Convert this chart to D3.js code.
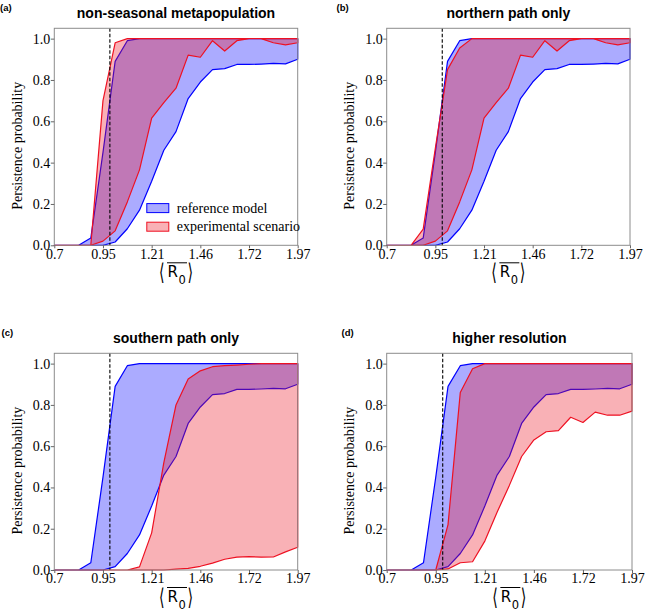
<!DOCTYPE html>
<html>
<head>
<meta charset="utf-8">
<script src="https://cdn.jsdelivr.net/npm/d3@7"></script>
</head>
<body style="margin:0;background:#fff">
<div id="chart"></div>
<script>
// R0 grid used by every panel
var r0Values = [0.7, 0.7635, 0.827, 0.8905, 0.954, 1.0175, 1.081, 1.1445, 1.208, 1.2715,
    1.335, 1.3985, 1.462, 1.5255, 1.589, 1.6525, 1.716, 1.7795, 1.843, 1.9065, 1.97];

// reference model (blue), same in all panels
var refLower = [0, 0, 0, 0, 0, 0.016, 0.08, 0.17, 0.31, 0.46, 0.55, 0.71, 0.79, 0.85, 0.855, 0.875, 0.875, 0.877, 0.88, 0.878, 0.90];
var refUpper = [0, 0, 0, 0.035, 0.45, 0.89, 0.99, 1, 1, 1, 1, 1, 1, 1, 1, 1, 1, 1, 1, 1, 1];

// experimental scenarios (red)
var nonSeasonalLower = [0, 0, 0, 0, 0.02, 0.07, 0.21, 0.365, 0.615, 0.69, 0.76, 0.92, 0.91, 0.99, 0.94, 0.99, 1, 1, 0.98, 0.97, 0.98];
var nonSeasonalUpper = [0, 0, 0, 0, 0.70, 0.98, 1, 1, 1, 1, 1, 1, 1, 1, 1, 1, 1, 1, 1, 1, 1];
var northernLower = [0, 0, 0, 0, 0.02, 0.07, 0.21, 0.365, 0.615, 0.69, 0.76, 0.92, 0.91, 0.99, 0.94, 0.99, 1, 1, 0.98, 0.97, 0.98];
var northernUpper = [0, 0, 0, 0.078, 0.47, 0.85, 0.955, 1, 1, 1, 1, 1, 1, 1, 1, 1, 1, 1, 1, 1, 1];
var southernLower = [0, 0, 0, 0, 0, 0, 0, 0, 0, 0, 0.004, 0.008, 0.018, 0.033, 0.052, 0.062, 0.065, 0.062, 0.063, 0.088, 0.11];
var southernUpper = [0, 0, 0, 0, 0, 0, 0, 0.015, 0.18, 0.52, 0.80, 0.925, 0.965, 0.985, 0.99, 0.993, 0.997, 1, 1, 1, 1];
var higherResLower = [0, 0, 0, 0, 0, 0.005, 0.035, 0.04, 0.14, 0.28, 0.41, 0.55, 0.63, 0.67, 0.675, 0.74, 0.715, 0.765, 0.75, 0.75, 0.77];
var higherResUpper = [0, 0, 0, 0, 0, 0.22, 0.86, 0.975, 1, 1, 1, 1, 1, 1, 1, 1, 1, 1, 1, 1, 1];

var xTickValues = [0.7, 0.954, 1.208, 1.462, 1.716, 1.97];
var xTickLabels = ["0.7", "0.95", "1.21", "1.46", "1.72", "1.97"];
var yTickValues = [0, 0.2, 0.4, 0.6, 0.8, 1.0];
var thresholdR0 = 0.99;
var legendLabels = ["reference model", "experimental scenario"];

var panels = [
    { tag: "(a)", title: "non-seasonal metapopulation", lower: nonSeasonalLower, upper: nonSeasonalUpper,
      left: 54.3, right: 297.7, top: 28.3, bottom: 245.3, tagX: 0, legend: true },
    { tag: "(b)", title: "northern path only", lower: northernLower, upper: northernUpper,
      left: 386.7, right: 630, top: 28.3, bottom: 245.3, tagX: 336.5 },
    { tag: "(c)", title: "southern path only", lower: southernLower, upper: southernUpper,
      left: 54.3, right: 297.7, top: 353.3, bottom: 570, tagX: 1.5 },
    { tag: "(d)", title: "higher resolution", lower: higherResLower, upper: higherResUpper,
      left: 386.7, right: 632, top: 353.3, bottom: 570, tagX: 341.5 }
];

var blue = "#0000ff";
var red = "#ee1122";
var serif = "'Liberation Serif', 'Times New Roman', serif";
var sans = "'Liberation Sans', Arial, sans-serif";

var svg = d3.select("#chart")
    .append("svg")
    .attr("width", 645)
    .attr("height", 611)
    .style("display", "block");

panels.forEach(drawPanel);

function drawPanel(p) {
    var x = d3.scaleLinear().domain([0.7, 1.97]).range([p.left, p.right]);
    var y = d3.scaleLinear().domain([0, 1.05]).range([p.bottom, p.top]);

    var g = svg.append("g");

    var area = function (lower, upper) {
        var pts = r0Values.map((r, i) => [x(r), y(upper[i])]);
        var back = r0Values.map((r, i) => [x(r), y(lower[i])]).reverse();
        return "M" + pts.concat(back).join("L") + "Z";
    };

    // reference model band
    g.append("path")
        .attr("d", area(refLower, refUpper))
        .attr("fill", blue)
        .attr("fill-opacity", 0.33)
        .attr("stroke", blue)
        .attr("stroke-width", 1.2)
        .attr("stroke-linejoin", "round");

    // experimental scenario band
    g.append("path")
        .attr("d", area(p.lower, p.upper))
        .attr("fill", red)
        .attr("fill-opacity", 0.33)
        .attr("stroke", red)
        .attr("stroke-width", 1.2)
        .attr("stroke-linejoin", "round");

    // threshold
    g.append("line")
        .attr("x1", x(thresholdR0)).attr("x2", x(thresholdR0))
        .attr("y1", p.top).attr("y2", p.bottom)
        .attr("stroke", "#000")
        .attr("stroke-width", 1.1)
        .attr("stroke-dasharray", "3.5,2");

    // frame
    g.append("rect")
        .attr("x", p.left).attr("y", p.top)
        .attr("width", p.right - p.left).attr("height", p.bottom - p.top)
        .attr("fill", "none")
        .attr("stroke", "#8c8c8c")
        .attr("stroke-width", 1);

    var bottomAxis = d3.axisBottom(x)
        .tickValues(xTickValues)
        .tickFormat((d, i) => xTickLabels[i])
        .tickSize(3)
        .tickPadding(0.5);
    var leftAxis = d3.axisLeft(y)
        .tickValues(yTickValues)
        .tickFormat(d3.format(".1f"))
        .tickSize(3.5)
        .tickPadding(0.5);

    var axes = [
        g.append("g").attr("transform", `translate(0, ${p.bottom})`).call(bottomAxis),
        g.append("g").attr("transform", `translate(${p.left}, 0)`).call(leftAxis)
    ];
    axes.forEach(function (a) {
        a.attr("font-family", serif).attr("font-size", 14);
        a.select(".domain").remove();
        a.selectAll(".tick line").attr("stroke", "#666");
        a.selectAll(".tick text").attr("fill", "#000");
    });

    // y label
    var midY = (p.top + p.bottom) / 2 + 9;
    g.append("text")
        .attr("transform", `translate(${p.left - 32.5}, ${midY}) rotate(-90)`)
        .attr("text-anchor", "middle")
        .attr("font-family", serif)
        .attr("font-size", 14)
        .text("Persistence probability");

    // x label: <R0 with overline>
    var cx = (p.left + p.right) / 2;
    var b = p.bottom;
    var xl = g.append("g").attr("font-family", "'DejaVu Sans', sans-serif");
    xl.append("text")
        .attr("transform", `translate(${cx - 17}, ${b + 34.5}) scale(0.62, 1)`)
        .attr("font-size", 23).text("\u27E8");
    xl.append("text").attr("x", cx - 8.5).attr("y", b + 32).attr("font-size", 15).text("R");
    xl.append("text").attr("x", cx + 2.5).attr("y", b + 38.5).attr("font-size", 11.5).text("0");
    xl.append("line")
        .attr("x1", cx - 9).attr("x2", cx + 11)
        .attr("y1", b + 17.5).attr("y2", b + 17.5)
        .attr("stroke", "#000").attr("stroke-width", 1);
    xl.append("text")
        .attr("transform", `translate(${cx + 11.5}, ${b + 34.5}) scale(0.62, 1)`)
        .attr("font-size", 23).text("\u27E9");

    // title
    g.append("text")
        .attr("x", cx)
        .attr("y", p.top - 10.5)
        .attr("text-anchor", "middle")
        .attr("font-family", sans)
        .attr("font-weight", "bold")
        .attr("font-size", 14)
        .text(p.title);

    // panel tag
    g.append("text")
        .attr("x", p.tagX)
        .attr("y", p.top - 17.5)
        .attr("font-family", sans)
        .attr("font-weight", "bold")
        .attr("font-size", 9.5)
        .text(p.tag);

    if (p.legend) {
        var lx = x(0.7) + 92.5;
        var ly = [y(0.18), y(0.09)];
        var colors = [blue, red];
        legendLabels.forEach(function (label, i) {
            g.append("rect")
                .attr("x", lx).attr("y", ly[i] - 4.5)
                .attr("width", 22).attr("height", 9)
                .attr("fill", colors[i]).attr("fill-opacity", 0.33)
                .attr("stroke", colors[i]).attr("stroke-width", 1);
            g.append("text")
                .attr("x", lx + 30).attr("y", ly[i] + 4.5)
                .attr("font-family", serif)
                .attr("font-size", 14)
                .text(label);
        });
    }
}
</script>
</body>
</html>
